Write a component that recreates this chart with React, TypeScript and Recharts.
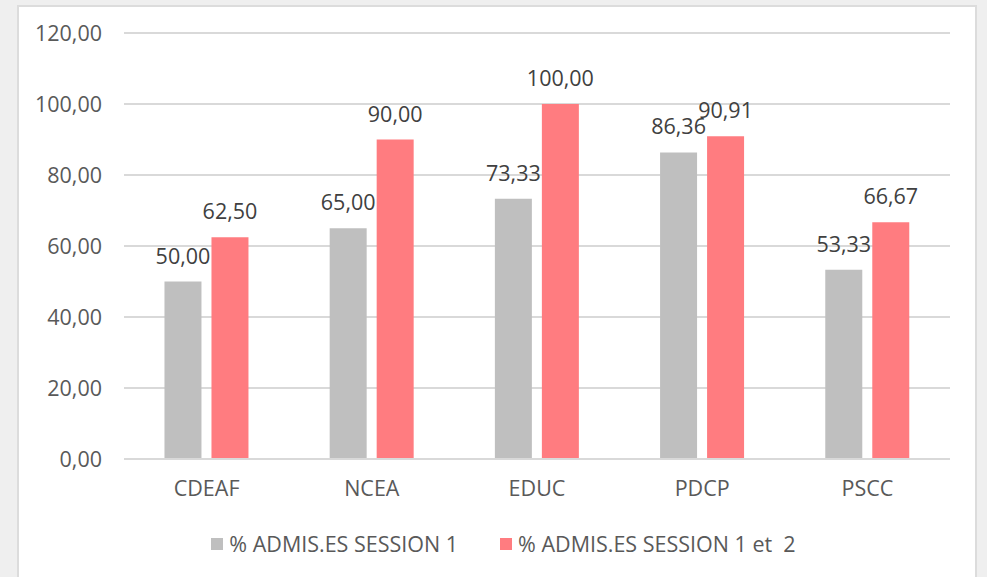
import React from "react";
import { BarChart, Bar, XAxis, YAxis, CartesianGrid, Legend, LabelList } from "recharts";

const categories = ["CDEAF", "NCEA", "EDUC", "PDCP", "PSCC"];
const session1 = [50.0, 65.0, 73.33, 86.36, 53.33];
const session12 = [62.5, 90.0, 100.0, 90.91, 66.67];
const yTicks = [0, 20, 40, 60, 80, 100, 120];
const seriesNames = ["% ADMIS.ES SESSION 1", "% ADMIS.ES SESSION 1 et  2"];
const colors = ["#bfbfbf", "#ff7c80"];

const data = categories.map((c, i) => ({ name: c, s1: session1[i], s12: session12[i] }));
const fmt = (v: number) => v.toFixed(2).replace(".", ",");
const FONT = "'Open Sans', sans-serif";
const FS = 21.5;

const LegendContent = () => (
  <div style={{ display: "flex", justifyContent: "center", fontFamily: FONT, fontSize: FS, color: "#595959", whiteSpace: "pre" }}>
    {seriesNames.map((n, i) => (
      <div key={n} style={{ display: "flex", alignItems: "center", marginRight: i === 0 ? 42 : 0 }}>
        <span style={{ width: 12, height: 12, background: colors[i], display: "inline-block", marginRight: 6 }} />
        <span>{n}</span>
      </div>
    ))}
  </div>
);

export default function App() {
  return (
    <div style={{ position: "fixed", left: 0, top: 0, width: 987, height: 577, background: "#efefef", overflow: "hidden" }}>
      <div style={{ position: "absolute", left: 17, top: 5, width: 960, height: 590, background: "#ffffff", border: "2px solid #dcdcdc", boxSizing: "border-box" }} />
      <div style={{ position: "absolute", left: 0, top: 0 }}>
        <BarChart width={987} height={577} data={data} margin={{ top: 33, right: 37, bottom: 78, left: 0 }} barGap={10} barCategoryGap="24.5%">
          <CartesianGrid vertical={false} stroke="#d9d9d9" strokeWidth={2} />
          <XAxis dataKey="name" tickLine={false} axisLine={{ stroke: "#d9d9d9", strokeWidth: 2 }} height={40} tickMargin={16}
            tick={{ fill: "#595959", fontSize: FS, fontFamily: FONT }} />
          <YAxis width={124} domain={[0, 120]} ticks={yTicks} tickFormatter={fmt} axisLine={false} tickLine={false} tickMargin={16}
            tick={{ fill: "#595959", fontSize: FS, fontFamily: FONT }} />
          <Legend layout="horizontal" verticalAlign="middle" align="center" content={<LegendContent />}
            wrapperStyle={{ top: 529, left: 20, width: 967 }} />
          <Bar dataKey="s1" name={seriesNames[0]} fill={colors[0]} isAnimationActive={false}>
            <LabelList dataKey="s1" position="top" offset={18} formatter={(v: any) => fmt(Number(v))}
              style={{ fill: "#404040", fontSize: FS, fontFamily: FONT }} />
          </Bar>
          <Bar dataKey="s12" name={seriesNames[1]} fill={colors[1]} isAnimationActive={false}>
            <LabelList dataKey="s12" position="top" offset={18} formatter={(v: any) => fmt(Number(v))}
              style={{ fill: "#404040", fontSize: FS, fontFamily: FONT }} />
          </Bar>
        </BarChart>
      </div>
    </div>
  );
}
